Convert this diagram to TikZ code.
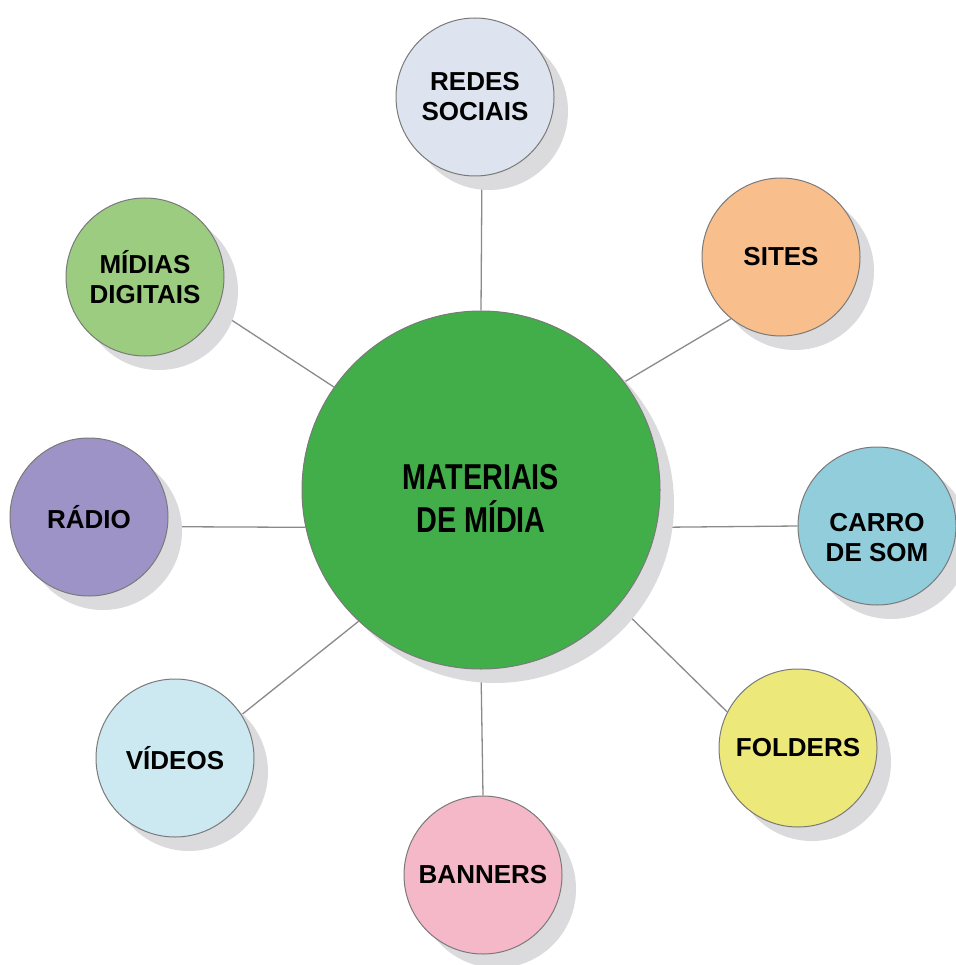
\documentclass[tikz,border=0pt]{standalone}
\usepackage{fontspec}
\setmainfont{Liberation Sans}
\newfontfamily\hubfont[FakeStretch=0.8]{Liberation Sans}
\usetikzlibrary{shadows}

\definecolor{hubgreen}{HTML}{41AE49}
\definecolor{redesblue}{HTML}{DDE4EF}
\definecolor{sitesorange}{HTML}{F8BF8C}
\definecolor{carroblue}{HTML}{92CDDC}
\definecolor{foldersyellow}{HTML}{EDE87A}
\definecolor{bannerspink}{HTML}{F5B8C8}
\definecolor{videoscyan}{HTML}{CCE9F1}
\definecolor{radiopurple}{HTML}{9D93C7}
\definecolor{midiasgreen}{HTML}{9BCC80}
\definecolor{shadowgray}{HTML}{DBDADC}
\definecolor{rimgray}{HTML}{7A7A7A}
\definecolor{linkgray}{HTML}{8A8A8A}

\pgfdeclarelayer{bg}
\pgfsetlayers{bg,main}

\tikzset{
  disc/.style={circle, draw=rimgray, line width=1pt, inner sep=0pt, align=center,
    drop shadow={shadow xshift=14pt, shadow yshift=-14pt, fill=shadowgray, opacity=1}},
  bubble/.style={disc, minimum size=158pt, font=\fontsize{26}{30}\selectfont\bfseries},
  hub/.style={disc, minimum size=358pt, fill=hubgreen, font=\hubfont\fontsize{36}{43}\selectfont\bfseries},
  link/.style={draw=linkgray, line width=1.3pt}
}

\begin{document}
\begin{tikzpicture}[x=1pt, y=-1pt]
  \useasboundingbox (0,0) rectangle (955,965);
  \node[hub, text height=85pt] (main) at (481,490) {MATERIAIS\\DE MÍDIA};
  \node[bubble, fill=redesblue] (redes) at (475,97) {REDES\\SOCIAIS};
  \node[bubble, fill=sitesorange] (sites) at (781,257) {SITES};
  \node[bubble, fill=carroblue, text height=71pt] (carro) at (877,526) {CARRO\\DE SOM};
  \node[bubble, fill=foldersyellow] (folders) at (798,748) {FOLDERS};
  \node[bubble, fill=bannerspink] (banners) at (483,875) {BANNERS};
  \node[bubble, fill=videoscyan] (videos) at (175,758) {VÍDEOS};
  \node[bubble, fill=radiopurple] (radio) at (89,517) {RÁDIO};
  \node[bubble, fill=midiasgreen] (midias) at (145,277) {MÍDIAS\\DIGITAIS};
  % spokes behind the discs
  \begin{pgfonlayer}{bg}
    \draw[link] (main.90) -- (redes.275);
    \draw[link] (main.37) -- (sites.231);
    \draw[link] (main.348) -- (carro.180);
    \draw[link] (main.320) -- (folders.153);
    \draw[link] (main.270) -- (banners.90);
    \draw[link] (main.227) -- (videos.33);
    \draw[link] (main.192) -- (radio.353);
    \draw[link] (main.145) -- (midias.335);
  \end{pgfonlayer}
\end{tikzpicture}
\end{document}
